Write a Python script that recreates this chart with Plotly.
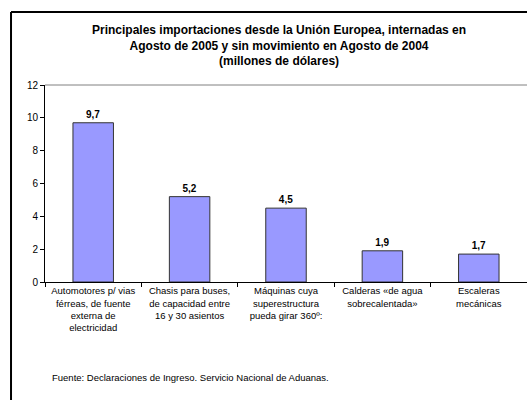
import plotly.graph_objects as go

categorias = [
    "Automotores p/ vias<br>férreas, de fuente<br>externa de<br>electricidad",
    "Chasis para buses,<br>de capacidad entre<br>16 y 30 asientos",
    "Máquinas cuya<br>superestructura<br>pueda girar 360º:",
    "Calderas «de agua<br>sobrecalentada»",
    "Escaleras<br>mecánicas",
]
valores = [9.7, 5.2, 4.5, 1.9, 1.7]

titulo = ("<b>Principales importaciones desde la Unión Europea, internadas en<br>"
          "Agosto de 2005 y sin movimiento en Agosto de 2004<br>"
          "(millones de dólares)</b>")
fuente = "Fuente: Declaraciones de Ingreso. Servicio Nacional de Aduanas."

FONT = "Arial, Liberation Sans, sans-serif"

fig = go.Figure(go.Bar(
    x=categorias, y=valores, width=0.42,
    marker=dict(color="#9999FF", line=dict(color="#333333", width=1)),
    texttemplate="<b>%{y:.1f}</b>", textposition="outside",
    textfont=dict(size=10, color="black", family=FONT),
    cliponaxis=False,
))

fig.update_layout(
    width=527, height=400,
    margin=dict(l=45, r=0, t=85, b=118),
    paper_bgcolor="white", plot_bgcolor="white",
    separators=",.",
    font=dict(family=FONT, size=10, color="black"),
    showlegend=False,
    xaxis=dict(showline=True, linecolor="black", linewidth=1, ticks="outside",
               tickson="boundaries", ticklen=4, tickcolor="black", tickangle=0,
               tickfont=dict(size=9.5), showgrid=False, automargin=False),
    yaxis=dict(range=[0, 12], dtick=2, showline=True, linecolor="black",
               linewidth=1, ticks="outside", ticklen=4, tickcolor="black",
               showgrid=False, zeroline=False, tickfont=dict(size=10)),
    annotations=[
        dict(text=titulo, xref="paper", yref="paper", x=0.485, y=1.198,
             xanchor="center", yanchor="middle", showarrow=False,
             font=dict(size=12, family=FONT)),
        dict(text=fuente, xref="paper", yref="paper", x=0.01, y=-0.487,
             xanchor="left", yanchor="middle", showarrow=False,
             font=dict(size=9.5, family=FONT)),
    ],
    shapes=[
        dict(type="line", xref="paper", yref="paper", x0=0, x1=1, y0=1, y1=1,
             line=dict(color="#808080", width=1)),
        # marco exterior del gráfico (recortado a la derecha y abajo)
        dict(type="line", xref="paper", yref="paper", x0=-0.0705, x1=1.0,
             y0=1.3706, y1=1.3706, line=dict(color="black", width=2),
             layer="above"),
        dict(type="line", xref="paper", yref="paper", x0=-0.0705, x1=-0.0705,
             y0=1.3706, y1=-0.62, line=dict(color="black", width=2),
             layer="above"),
    ],
)

# la página trae margen por defecto en body; lo quitamos
fig.write_html("out.html", config={"displayModeBar": False},
               post_script="document.body.style.margin='0';")
